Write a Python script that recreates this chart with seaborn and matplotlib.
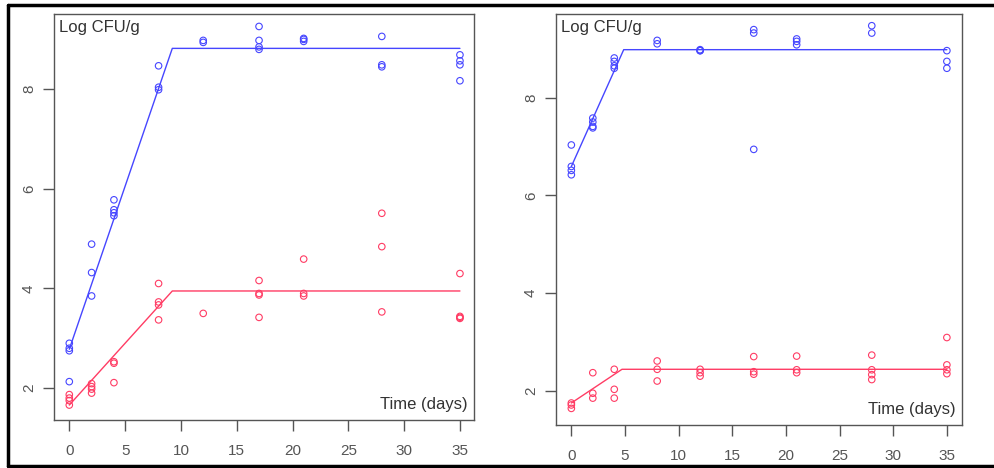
import numpy as np
import pandas as pd
import matplotlib
matplotlib.use("Agg")
import matplotlib.pyplot as plt
import seaborn as sns

# ---------------- data ----------------
# Left panel
L_blue_day = [0, 0, 0, 0, 2, 2, 2, 4, 4, 4, 4, 8, 8, 8, 12, 12,
              17, 17, 17, 17, 21, 21, 21, 28, 28, 28, 35, 35, 35, 35]
L_blue_val = [2.90, 2.80, 2.75, 2.13, 4.89, 4.32, 3.85, 5.78, 5.58, 5.52, 5.46,
              8.47, 8.04, 7.99, 8.98, 8.94, 9.26, 8.98, 8.85, 8.80,
              9.02, 9.00, 8.96, 9.06, 8.49, 8.45, 8.69, 8.57, 8.49, 8.17]
L_red_day = [0, 0, 0, 0, 2, 2, 2, 2, 4, 4, 4, 8, 8, 8, 8, 12,
             17, 17, 17, 17, 21, 21, 21, 28, 28, 28, 35, 35, 35, 35]
L_red_val = [1.87, 1.80, 1.75, 1.66, 2.09, 2.03, 1.98, 1.90, 2.53, 2.50, 2.11,
             4.10, 3.73, 3.67, 3.37, 3.50, 4.16, 3.90, 3.87, 3.42,
             4.59, 3.90, 3.85, 5.51, 4.84, 3.53, 4.30, 3.44, 3.42, 3.40]
L_blue_fit_day = [0, 9.23, 35]
L_blue_fit_val = [2.78, 8.82, 8.82]
L_red_fit_day = [0, 9.23, 35]
L_red_fit_val = [1.66, 3.95, 3.95]

# Right panel
R_blue_day = [0, 0, 0, 0, 2, 2, 2, 2, 4, 4, 4, 4, 8, 8, 12, 12, 12,
              17, 17, 17, 21, 21, 21, 28, 28, 35, 35, 35]
R_blue_val = [7.03, 6.59, 6.51, 6.42, 7.58, 7.50, 7.41, 7.38, 8.81, 8.74, 8.65, 8.60,
              9.17, 9.10, 8.98, 8.96, 8.96, 9.39, 9.32, 6.94, 9.20, 9.15, 9.08,
              9.47, 9.32, 8.96, 8.74, 8.60]
R_red_day = [0, 0, 0, 2, 2, 2, 4, 4, 4, 8, 8, 8, 12, 12, 12,
             17, 17, 17, 21, 21, 21, 28, 28, 28, 28, 35, 35, 35, 35]
R_red_val = [1.75, 1.71, 1.64, 2.37, 1.95, 1.85, 2.44, 2.03, 1.85, 2.61, 2.44, 2.20,
             2.44, 2.37, 2.30, 2.70, 2.39, 2.34, 2.71, 2.43, 2.37,
             2.73, 2.43, 2.33, 2.23, 3.09, 2.53, 2.43, 2.35]
R_blue_fit_day = [0, 4.88, 35]
R_blue_fit_val = [6.59, 8.98, 8.98]
R_red_fit_day = [0, 4.72, 35]
R_red_fit_val = [1.75, 2.44, 2.44]

x_ticks = [0, 5, 10, 15, 20, 25, 30, 35]
y_ticks = [2, 4, 6, 8]
y_label = "Log CFU/g"
x_label = "Time (days)"

BLUE = "#4646ff"
RED = "#ff3c64"
GRAY = "#555555"

sns.set_theme(style="white")
plt.rcParams['font.family'] = ['Liberation Sans', 'DejaVu Sans']

fig = plt.figure(figsize=(9.95, 4.68), dpi=100)
W, H = 995, 468


def px_axes(x0, y0, x1, y1):
    return fig.add_axes([x0 / W, 1 - y1 / H, (x1 - x0) / W, (y1 - y0) / H])


def draw_panel(ax, bday, bval, rday, rval, bfd, bfv, rfd, rfv, xlim, ylim):
    for d, v, c in [(bday, bval, BLUE), (rday, rval, RED)]:
        df = pd.DataFrame({"day": d, "val": v})
        sns.scatterplot(data=df, x="day", y="val", ax=ax, marker="o", s=22,
                        color=c, linewidth=0.8, legend=False)
        coll = ax.collections[-1]
        coll.set_facecolor("none")
        coll.set_edgecolor(c)
    for d, v, c in [(bfd, bfv, BLUE), (rfd, rfv, RED)]:
        df = pd.DataFrame({"day": d, "val": v})
        sns.lineplot(data=df, x="day", y="val", ax=ax, color=c, linewidth=1.0,
                     legend=False, estimator=None, sort=False)
    ax.set_xlim(*xlim)
    ax.set_ylim(*ylim)
    ax.set_xticks(x_ticks)
    ax.set_yticks(y_ticks)
    ax.set_xticklabels([str(t) for t in x_ticks])
    ax.set_yticklabels([str(t) for t in y_ticks], rotation=90, va="center")
    ax.set_xlabel("")
    ax.set_ylabel("")
    ax.tick_params(axis="both", which="both", direction="out", length=8,
                   width=1.0, color=GRAY, labelcolor=GRAY, labelsize=11,
                   bottom=True, left=True)
    ax.tick_params(axis="x", pad=9)
    ax.tick_params(axis="y", pad=5)
    for sp in ax.spines.values():
        sp.set_color(GRAY)
        sp.set_linewidth(1.0)
    ax.text(0.012, 0.985, y_label, transform=ax.transAxes, ha="left", va="top",
            fontsize=12, color="#333333")
    ax.text(0.985, 0.02, x_label, transform=ax.transAxes, ha="right",
            va="bottom", fontsize=12, color="#333333")


axL = px_axes(54, 14, 474, 420)
draw_panel(axL, L_blue_day, L_blue_val, L_red_day, L_red_val,
           L_blue_fit_day, L_blue_fit_val, L_red_fit_day, L_red_fit_val,
           (-1.37, 36.26), (1.36, 9.51))

axR = px_axes(556, 14, 962, 425)
draw_panel(axR, R_blue_day, R_blue_val, R_red_day, R_red_val,
           R_blue_fit_day, R_blue_fit_val, R_red_fit_day, R_red_fit_val,
           (-1.43, 36.41), (1.30, 9.71))

# outer black frame (left, top, bottom edges)
frame_kw = dict(color="black", linewidth=2.5, transform=fig.transFigure,
                clip_on=False)
fig.add_artist(plt.Line2D([8 / W, 8 / W], [1 - 5 / H, 1 - 466 / H], **frame_kw))
fig.add_artist(plt.Line2D([8 / W, 1.0], [1 - 5 / H, 1 - 5 / H], **frame_kw))
fig.add_artist(plt.Line2D([8 / W, 1.0], [1 - 466 / H, 1 - 466 / H], **frame_kw))

fig.savefig("out.png", dpi=100, facecolor="white")
